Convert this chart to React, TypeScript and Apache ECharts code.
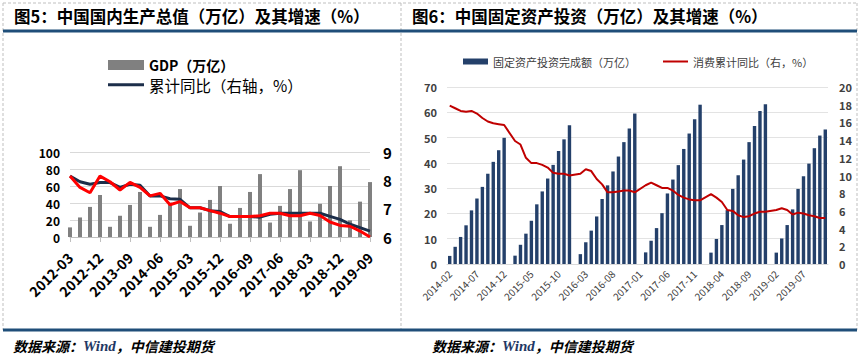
import React, { useEffect, useRef } from "react";
import * as echarts from "echarts";

// ---------- Left chart (Fig.5) ----------
const gdpCategories = [
  "2012-03", "2012-06", "2012-09", "2012-12",
  "2013-03", "2013-06", "2013-09", "2013-12",
  "2014-03", "2014-06", "2014-09", "2014-12",
  "2015-03", "2015-06", "2015-09", "2015-12",
  "2016-03", "2016-06", "2016-09", "2016-12",
  "2017-03", "2017-06", "2017-09", "2017-12",
  "2018-03", "2018-06", "2018-09", "2018-12",
  "2019-03", "2019-06", "2019-09",
];
const gdpValues = [
  11.3, 23.0, 35.4, 49.4,
  12.0, 25.0, 37.7, 53.0,
  12.0, 26.0, 40.5, 56.4,
  13.2, 28.8, 43.6, 60.0,
  15.6, 34.2, 53.0, 74.0,
  17.0, 36.6, 56.4, 78.6,
  18.3, 39.0, 60.0, 83.3,
  19.5, 41.6, 64.6,
];
const gdpCumYoY = [
  8.15, 7.95, 7.86, 7.92,
  7.92, 7.75, 7.86, 7.83,
  7.45, 7.45, 7.35, 7.33,
  7.03, 7.03, 6.93, 6.9,
  6.72, 6.72, 6.72, 6.7,
  6.8, 6.84, 6.84, 6.84,
  6.84, 6.84, 6.73, 6.62,
  6.45, 6.33, 6.21,
];
const gdpQuarterYoY = [
  8.15, 7.75, 7.56, 8.15,
  7.95, 7.66, 7.93, 7.75,
  7.45, 7.54, 7.14, 7.25,
  7.03, 7.03, 6.93, 6.84,
  6.72, 6.72, 6.72, 6.75,
  6.84, 6.84, 6.75, 6.75,
  6.84, 6.76, 6.53, 6.41,
  6.38, 6.21, 6.0,
];

// ---------- Right chart (Fig.6) ----------
const faiCategories = [
  "2014-02", "2014-03", "2014-04", "2014-05", "2014-06", "2014-07", "2014-08", "2014-09", "2014-10", "2014-11", "2014-12",
  "2015-01", "2015-02", "2015-03", "2015-04", "2015-05", "2015-06", "2015-07", "2015-08", "2015-09", "2015-10", "2015-11", "2015-12",
  "2016-01", "2016-02", "2016-03", "2016-04", "2016-05", "2016-06", "2016-07", "2016-08", "2016-09", "2016-10", "2016-11", "2016-12",
  "2017-01", "2017-02", "2017-03", "2017-04", "2017-05", "2017-06", "2017-07", "2017-08", "2017-09", "2017-10", "2017-11", "2017-12",
  "2018-01", "2018-02", "2018-03", "2018-04", "2018-05", "2018-06", "2018-07", "2018-08", "2018-09", "2018-10", "2018-11", "2018-12",
  "2019-01", "2019-02", "2019-03", "2019-04", "2019-05", "2019-06", "2019-07", "2019-08", "2019-09", "2019-10", "2019-11",
];
const faiValues = [
  3.2, 6.8, 10.7, 15.3, 21.2, 25.9, 30.5, 35.7, 40.4, 45.0, 49.9,
  null, 3.3, 7.6, 12.0, 17.1, 23.6, 28.7, 33.8, 39.2, 44.7, 49.3, 54.9,
  null, 3.9, 8.6, 13.2, 18.8, 25.7, 31.1, 36.6, 42.5, 48.2, 53.6, 59.5,
  null, 4.6, 9.2, 14.2, 20.1, 27.9, 33.4, 39.1, 45.5, 51.6, 57.2, 63.0,
  null, 4.5, 9.9, 15.4, 21.3, 29.7, 35.1, 41.3, 48.2, 54.6, 60.5, 63.2,
  null, 4.5, 10.1, 15.4, 21.6, 29.7, 34.7, 39.7, 45.8, 50.8, 53.2,
];
const faiYoY = [
  17.9, 17.6, 17.3, 17.2, 17.3, 17.0, 16.5, 16.1, 15.9, 15.8, 15.7,
  null, 13.9, 13.5, 12.0, 11.4, 11.4, 11.2, 10.9, 10.3, 10.2, 10.2, 10.0,
  null, 10.2, 10.7, 10.5, 9.6, 9.0, 8.1, 8.1, 8.2, 8.3, 8.3, 8.1,
  null, 8.9, 9.2, 8.9, 8.6, 8.6, 8.3, 7.8, 7.5, 7.3, 7.2, 7.2,
  null, 7.9, 7.5, 7.0, 6.1, 6.0, 5.5, 5.3, 5.4, 5.7, 5.9, 5.9,
  null, 6.1, 6.3, 6.1, 5.6, 5.8, 5.7, 5.5, 5.4, 5.2, 5.2,
];

const FONT = "'Noto Sans CJK SC', 'Noto Sans', sans-serif";
const TITLE_BLUE = "#1F4E79";
const DASH = "#bfbfbf";

export default function App() {
  const ref = useRef<HTMLDivElement>(null);

  useEffect(() => {
    document.body.style.margin = "0";
    if (!ref.current) return;
    const chart = echarts.init(ref.current, undefined, { renderer: "svg" });

    const dashLine = (x1: number, y1: number, x2: number, y2: number) => ({
      type: "line",
      shape: { x1, y1, x2, y2 },
      style: { stroke: DASH, lineWidth: 1, lineDash: [3, 2] },
      silent: true,
    });
    const sourceText = (x: number) => ({
      type: "text",
      x,
      y: 346,
      style: {
        text: "{a|数据来源：}{b|Wind}{a|，中信建投期货}",
        verticalAlign: "middle",
        rich: {
          a: { fontFamily: FONT, fontSize: 14, fontWeight: "bold", fontStyle: "italic", fill: "#000" },
          b: { fontFamily: "'Liberation Serif', serif", fontSize: 15, fontWeight: "bold", fontStyle: "italic", fill: "#1f3864" },
        },
      },
    });

    const option: any = {
      animation: false,
      backgroundColor: "#ffffff",
      textStyle: { fontFamily: FONT },
      graphic: [
        dashLine(3, 3, 857, 3),
        dashLine(3, 3, 3, 330),
        dashLine(857, 3, 857, 330),
        dashLine(401, 3, 401, 330),
        { type: "line", shape: { x1: 3, y1: 31, x2: 857, y2: 31 }, style: { stroke: TITLE_BLUE, lineWidth: 3 } },
        { type: "line", shape: { x1: 3, y1: 330, x2: 857, y2: 330 }, style: { stroke: TITLE_BLUE, lineWidth: 3 } },
        {
          type: "text",
          x: 14,
          y: 16,
          style: { text: "图5：中国国内生产总值（万亿）及其增速（%）", fontFamily: FONT, fontSize: 16.5, fontWeight: "bold", fill: "#000", verticalAlign: "middle" },
        },
        {
          type: "text",
          x: 412,
          y: 16,
          style: { text: "图6：中国固定资产投资（万亿）及其增速（%）", fontFamily: FONT, fontSize: 16.5, fontWeight: "bold", fill: "#000", verticalAlign: "middle" },
        },
        sourceText(13),
        sourceText(432),
      ],
      legend: [
        {
          left: 108,
          top: 58,
          padding: 0,
          itemWidth: 36,
          itemHeight: 10,
          icon: "rect",
          textStyle: { fontSize: 14, lineHeight: 14, fontWeight: "bold", color: "#000", fontFamily: FONT },
          data: ["GDP（万亿）"],
        },
        {
          left: 108,
          top: 77,
          padding: 0,
          itemWidth: 36,
          itemHeight: 3,
          icon: "rect",
          textStyle: { fontSize: 15.5, lineHeight: 15.5, color: "#000", fontFamily: FONT },
          data: ["累计同比（右轴，%）"],
        },
        {
          left: 463,
          top: 56,
          padding: 0,
          itemWidth: 25,
          itemHeight: 6,
          icon: "rect",
          textStyle: { fontSize: 11, color: "#404040", fontFamily: FONT },
          data: ["固定资产投资完成额（万亿）"],
        },
        {
          left: 663,
          top: 56,
          padding: 0,
          itemWidth: 25,
          itemHeight: 2,
          icon: "rect",
          textStyle: { fontSize: 11, color: "#404040", fontFamily: FONT },
          data: ["消费累计同比（右，%）"],
        },
      ],
      grid: [
        { left: 70, right: 491, top: 152, bottom: 120, containLabel: false },
        { left: 447, right: 33, top: 87, bottom: 93, containLabel: false },
      ],
      xAxis: [
        {
          type: "category",
          gridIndex: 0,
          data: gdpCategories,
          boundaryGap: false,
          axisLine: { lineStyle: { color: "#bfbfbf" } },
          axisTick: { show: true, interval: 2, length: 5, lineStyle: { color: "#bfbfbf" } },
          axisLabel: { interval: 2, rotate: 45, fontSize: 14, fontWeight: "bold", color: "#000", margin: 18 },
        },
        {
          type: "category",
          gridIndex: 1,
          data: faiCategories,
          boundaryGap: true,
          axisLine: { lineStyle: { color: "#d9d9d9" } },
          axisTick: { show: false },
          axisLabel: { interval: 4, rotate: 45, fontSize: 10, color: "#404040", margin: 8 },
        },
      ],
      yAxis: [
        {
          type: "value",
          gridIndex: 0,
          min: 0,
          max: 100,
          interval: 20,
          axisLine: { show: false },
          axisTick: { show: false },
          axisLabel: { fontSize: 12, lineHeight: 12, fontWeight: "bold", color: "#000", margin: 10 },
          splitLine: { lineStyle: { color: "#d9d9d9" } },
        },
        {
          type: "value",
          gridIndex: 0,
          position: "right",
          min: 6,
          max: 9,
          interval: 1,
          axisLine: { show: false },
          axisTick: { show: false },
          axisLabel: { fontSize: 15, fontWeight: "bold", color: "#000", margin: 13 },
          splitLine: { show: false },
        },
        {
          type: "value",
          gridIndex: 1,
          min: 0,
          max: 70,
          interval: 10,
          axisLine: { show: false },
          axisTick: { show: false },
          axisLabel: { fontSize: 11, fontWeight: "bold", color: "#404040", margin: 10 },
          splitLine: { lineStyle: { color: "#e3e3e3" } },
        },
        {
          type: "value",
          gridIndex: 1,
          position: "right",
          min: 0,
          max: 20,
          interval: 2,
          axisLine: { show: false },
          axisTick: { show: false },
          axisLabel: { fontSize: 11, fontWeight: "bold", color: "#404040", margin: 11 },
          splitLine: { show: false },
        },
      ],
      series: [
        {
          name: "GDP（万亿）",
          type: "bar",
          xAxisIndex: 0,
          yAxisIndex: 0,
          data: gdpValues,
          barWidth: 4,
          itemStyle: { color: "#808080" },
        },
        {
          name: "累计同比（右轴，%）",
          type: "line",
          xAxisIndex: 0,
          yAxisIndex: 1,
          data: gdpCumYoY,
          showSymbol: false,
          symbol: "none",
          lineStyle: { color: "#1c2e4a", width: 3 },
          itemStyle: { color: "#1c2e4a" },
        },
        {
          name: "单季同比",
          type: "line",
          xAxisIndex: 0,
          yAxisIndex: 1,
          data: gdpQuarterYoY,
          showSymbol: false,
          symbol: "none",
          lineStyle: { color: "#ff0000", width: 3 },
          itemStyle: { color: "#ff0000" },
        },
        {
          name: "固定资产投资完成额（万亿）",
          type: "bar",
          xAxisIndex: 1,
          yAxisIndex: 2,
          data: faiValues,
          barWidth: 3.4,
          itemStyle: { color: "#24406a" },
        },
        {
          name: "消费累计同比（右，%）",
          type: "line",
          xAxisIndex: 1,
          yAxisIndex: 3,
          data: faiYoY,
          connectNulls: true,
          showSymbol: false,
          symbol: "none",
          lineStyle: { color: "#c00000", width: 2 },
          itemStyle: { color: "#c00000" },
        },
      ],
    };

    chart.setOption(option);
    return () => {
      chart.dispose();
    };
  }, []);

  return <div ref={ref} style={{ width: 861, height: 357 }} />;
}
